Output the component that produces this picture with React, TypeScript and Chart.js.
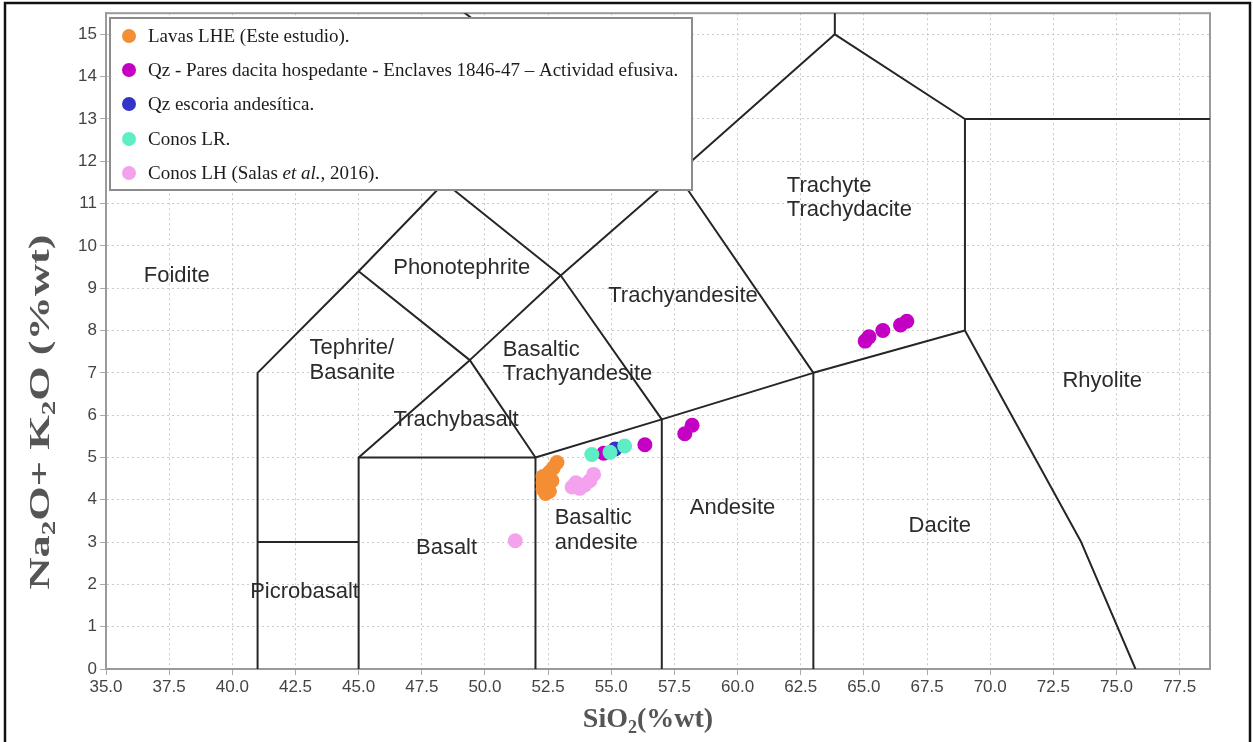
import React, { useEffect, useRef } from "react";
import { Chart, registerables } from "chart.js";

Chart.register(...registerables);

// ---- data ----
const lavasLHE = [
  { x: 52.85, y: 4.88 }, { x: 52.7, y: 4.75 }, { x: 52.55, y: 4.65 }, { x: 52.3, y: 4.55 },
  { x: 52.45, y: 4.5 }, { x: 52.3, y: 4.4 }, { x: 52.5, y: 4.35 }, { x: 52.3, y: 4.25 },
  { x: 52.55, y: 4.2 }, { x: 52.4, y: 4.15 }, { x: 52.65, y: 4.45 },
];
const qzPares = [
  { x: 54.7, y: 5.1 }, { x: 56.33, y: 5.3 }, { x: 57.91, y: 5.56 }, { x: 58.2, y: 5.76 },
  { x: 65.05, y: 7.75 }, { x: 65.2, y: 7.85 }, { x: 65.75, y: 8.0 }, { x: 66.45, y: 8.13 }, { x: 66.7, y: 8.22 },
];
const qzEscoria = [{ x: 55.15, y: 5.2 }];
const conosLR = [{ x: 54.23, y: 5.07 }, { x: 54.95, y: 5.12 }, { x: 55.53, y: 5.27 }];
const conosLH = [
  { x: 53.45, y: 4.3 }, { x: 53.75, y: 4.27 }, { x: 53.95, y: 4.35 }, { x: 54.15, y: 4.45 },
  { x: 54.3, y: 4.6 }, { x: 53.6, y: 4.4 }, { x: 51.2, y: 3.03 },
];

const seriesNames = [
  "Lavas LHE (Este estudio).",
  "Qz - Pares dacita hospedante - Enclaves 1846-47 \u2013 Actividad efusiva.",
  "Qz escoria andes\u00edtica.",
  "Conos LR.",
  "Conos LH (Salas |et al.|, 2016).",
];
const seriesColors = ["#F48E34", "#C300C3", "#3434C8", "#5DEEC6", "#F5A2EE"];

const xTicks = [35, 37.5, 40, 42.5, 45, 47.5, 50, 52.5, 55, 57.5, 60, 62.5, 65, 67.5, 70, 72.5, 75, 77.5];
const yTicks = [0, 1, 2, 3, 4, 5, 6, 7, 8, 9, 10, 11, 12, 13, 14, 15];

// TAS field boundaries (SiO2, Na2O+K2O)
const boundaries: number[][][] = [
  [[41, 0], [41, 7], [45, 9.4], [48.4, 11.5], [52.5, 14], [47.9, 16.1]],
  [[41, 3], [45, 3]],
  [[45, 0], [45, 5], [52, 5], [52, 0]],
  [[45, 5], [49.4, 7.3], [53, 9.3], [57.6, 11.7]],
  [[45, 9.4], [49.4, 7.3], [52, 5]],
  [[48.4, 11.5], [53, 9.3], [57, 5.9]],
  [[52.5, 14], [57.6, 11.7], [63, 7]],
  [[52, 5], [57, 5.9], [63, 7], [69, 8]],
  [[57, 0], [57, 5.9]],
  [[63, 0], [63, 7]],
  [[57.6, 11.7], [63.85, 15], [69, 13], [69, 8], [73.6, 3], [75.75, 0]],
  [[63.85, 15], [63.85, 17]],
  [[69, 13], [85, 13]],
];

const regionNames = [
  "Foidite", "Phonotephrite", "Tephrite/", "Basanite", "Basaltic", "Trachyandesite",
  "Trachybasalt", "Trachyandesite", "Trachyte", "Trachydacite", "Rhyolite", "Dacite",
  "Andesite", "Basaltic", "andesite", "Basalt", "Picrobasalt",
];
const regionX = [37.8, 49.08, 43.06, 43.06, 50.7, 50.7, 48.86, 57.84, 61.95, 61.95, 74.43, 68.0, 59.8, 52.76, 52.76, 48.48, 42.86];
const regionY = [9.3, 9.47, 7.58, 6.99, 7.53, 6.97, 5.89, 8.81, 11.42, 10.85, 6.8, 3.38, 3.81, 3.58, 2.99, 2.85, 1.81];
const regionAlign = ["center", "center", "left", "left", "left", "left", "center", "center", "left", "left", "center", "center", "center", "left", "left", "center", "center"];

// ---- helpers ----
type Part = { t: string; sub?: boolean };
function measureParts(ctx: CanvasRenderingContext2D, parts: Part[], size: number, family: string, weight: string) {
  let w = 0;
  for (const p of parts) {
    ctx.font = `${weight} ${p.sub ? Math.round(size * 0.65) : size}px ${family}`;
    w += ctx.measureText(p.t).width;
  }
  return w;
}
function drawParts(ctx: CanvasRenderingContext2D, parts: Part[], x: number, y: number, size: number, family: string, weight: string) {
  let cx = x;
  for (const p of parts) {
    ctx.font = `${weight} ${p.sub ? Math.round(size * 0.65) : size}px ${family}`;
    ctx.fillText(p.t, cx, p.sub ? y + size * 0.22 : y);
    cx += ctx.measureText(p.t).width;
  }
}

const SERIF = '"Liberation Serif", "Times New Roman", serif';
const SANS = '"Liberation Sans", Arial, sans-serif';

const tasPlugin = {
  id: "tas",
  beforeDraw(chart: any) {
    const ctx = chart.ctx;
    ctx.save();
    ctx.fillStyle = "#fff";
    ctx.fillRect(0, 0, chart.width, chart.height);
    ctx.restore();
  },
  beforeDatasetsDraw(chart: any) {
    const { ctx, chartArea: a, scales } = chart;
    const xs = scales.x, ys = scales.y;
    ctx.save();
    ctx.strokeStyle = "#9a9a9a";
    ctx.lineWidth = 2;
    ctx.strokeRect(a.left, a.top, a.right - a.left, a.bottom - a.top);
    ctx.restore();

    ctx.save();
    ctx.beginPath();
    ctx.rect(a.left, a.top, a.right - a.left, a.bottom - a.top);
    ctx.clip();
    ctx.strokeStyle = "#262626";
    ctx.lineWidth = 2;
    ctx.lineJoin = "round";
    for (const line of boundaries) {
      ctx.beginPath();
      line.forEach(([vx, vy], i) => {
        const px = xs.getPixelForValue(vx);
        const py = ys.getPixelForValue(vy);
        if (i === 0) ctx.moveTo(px, py);
        else ctx.lineTo(px, py);
      });
      ctx.stroke();
    }
    ctx.restore();

    ctx.save();
    ctx.fillStyle = "#2b2b2b";
    ctx.font = `22px ${SANS}`;
    ctx.textBaseline = "middle";
    regionNames.forEach((n, i) => {
      ctx.textAlign = regionAlign[i] as CanvasTextAlign;
      ctx.fillText(n, xs.getPixelForValue(regionX[i]), ys.getPixelForValue(regionY[i]));
    });
    ctx.restore();
  },
  afterDatasetsDraw(chart: any) {
    const ctx = chart.ctx as CanvasRenderingContext2D;
    const bx = 110, by = 18, bw = 582, bh = 172;
    ctx.save();
    ctx.fillStyle = "#fff";
    ctx.fillRect(bx, by, bw, bh);
    ctx.strokeStyle = "#8c8c8c";
    ctx.lineWidth = 2;
    ctx.strokeRect(bx, by, bw, bh);
    const rowY = [36, 70, 104, 139, 173];
    ctx.textBaseline = "middle";
    ctx.textAlign = "left";
    seriesNames.forEach((name, i) => {
      ctx.fillStyle = seriesColors[i];
      ctx.beginPath();
      ctx.arc(129, rowY[i], 7, 0, Math.PI * 2);
      ctx.fill();
      ctx.fillStyle = "#1c1c1c";
      let cx = 148;
      name.split("|").forEach((seg, k) => {
        ctx.font = `${k % 2 === 1 ? "italic " : ""}19px ${SERIF}`;
        ctx.fillText(seg, cx, rowY[i] + 1);
        cx += ctx.measureText(seg).width;
      });
    });
    ctx.restore();
  },
  afterDraw(chart: any) {
    const ctx = chart.ctx as CanvasRenderingContext2D;
    ctx.save();
    ctx.strokeStyle = "#111";
    ctx.lineWidth = 2.5;
    ctx.strokeRect(5, 3, 1245, 800);
    ctx.restore();

    ctx.save();
    ctx.fillStyle = "#555";
    ctx.textBaseline = "alphabetic";
    const xt: Part[] = [{ t: "SiO" }, { t: "2", sub: true }, { t: "(%wt)" }];
    const xw = measureParts(ctx, xt, 28, SERIF, "bold");
    drawParts(ctx, xt, 648 - xw / 2, 727, 28, SERIF, "bold");

    const yt: Part[] = [{ t: "Na" }, { t: "2", sub: true }, { t: "O+ K" }, { t: "2", sub: true }, { t: "O (%wt)" }];
    const yw = measureParts(ctx, yt, 29, SERIF, "bold");
    const target = 355;
    ctx.translate(49, 412);
    ctx.rotate(-Math.PI / 2);
    ctx.scale(target / yw, 1);
    drawParts(ctx, yt, -yw / 2, 0, 29, SERIF, "bold");
    ctx.restore();
  },
};

export default function App() {
  const ref = useRef<HTMLCanvasElement | null>(null);
  useEffect(() => {
    document.body.style.margin = "0";
    const canvas = ref.current!;
    const data = [lavasLHE, qzPares, qzEscoria, conosLR, conosLH];
    const orders = [1, 3, 2, 0, 1];
    const chart = new Chart(canvas, {
      type: "scatter",
      data: {
        datasets: data.map((d, i) => ({
          label: seriesNames[i].replace(/\|/g, ""),
          data: d,
          backgroundColor: seriesColors[i],
          borderColor: seriesColors[i],
          borderWidth: 0,
          pointRadius: 7.5,
          pointHoverRadius: 7.5,
          order: orders[i],
        })),
      },
      options: {
        responsive: false,
        animation: false,
        layout: { padding: { left: 0, top: 10, right: 43, bottom: 0 } },
        plugins: { legend: { display: false }, tooltip: { enabled: false } },
        scales: {
          x: {
            type: "linear",
            min: 35,
            max: 78.7,
            afterFit: (s: any) => { s.height = 73; },
            afterBuildTicks: (s: any) => { s.ticks = xTicks.map((v) => ({ value: v })); },
            ticks: {
              font: { family: SANS, size: 17 },
              color: "#444",
              padding: 2,
              maxRotation: 0,
              autoSkip: false,
              callback: (v: any) => Number(v).toFixed(1),
            },
            grid: { color: "#cacaca", lineWidth: 1, tickLength: 6, tickColor: "#aaa", tickWidth: 1 },
            border: { display: true, color: "#9a9a9a", width: 2, dash: [2, 3] },
          },
          y: {
            type: "linear",
            min: 0,
            max: 15.5,
            afterFit: (s: any) => { s.width = 106; },
            afterBuildTicks: (s: any) => { s.ticks = yTicks.map((v) => ({ value: v })); },
            ticks: {
              font: { family: SANS, size: 17 },
              color: "#444",
              padding: 3,
              autoSkip: false,
              callback: (v: any) => String(v),
            },
            grid: { color: "#cacaca", lineWidth: 1, tickLength: 6, tickColor: "#aaa", tickWidth: 1 },
            border: { display: true, color: "#9a9a9a", width: 2, dash: [2, 3] },
          },
        },
      },
      plugins: [tasPlugin],
    });
    return () => chart.destroy();
  }, []);
  return (
    <div style={{ width: 1253, height: 742, position: "relative", overflow: "hidden" }}>
      <canvas ref={ref} width={1253} height={742} style={{ display: "block" }} />
    </div>
  );
}
